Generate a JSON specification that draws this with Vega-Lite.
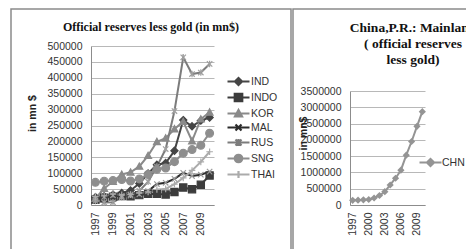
{
  "$schema": "https://vega.github.io/schema/vega-lite/v6.json",
  "padding": {"left": 10, "top": 8, "right": 0, "bottom": 0},
  "background": "white",
  "spacing": 0,
  "config": {
    "font": "Liberation Sans",
    "axis": {"labelFont": "Liberation Sans", "labelFontSize": 10.5, "labelColor": "#333333", "domainColor": "#8c8c8c", "domainWidth": 1, "ticks": false, "gridColor": "#b8b8b8", "gridWidth": 1},
    "legend": {"labelFont": "Liberation Sans", "labelFontSize": 10.5, "labelColor": "#333333", "padding": 0}
  },
  "resolve": {"scale": {"color": "independent", "x": "independent", "y": "independent"}, "legend": {"color": "independent"}},
  "datasets": {
    "asia": [
      {"year": 1997, "country": "IND", "value": 24688}, {"year": 1998, "country": "IND", "value": 27341}, {"year": 1999, "country": "IND", "value": 32667}, {"year": 2000, "country": "IND", "value": 37902}, {"year": 2001, "country": "IND", "value": 45870}, {"year": 2002, "country": "IND", "value": 67665}, {"year": 2003, "country": "IND", "value": 98938}, {"year": 2004, "country": "IND", "value": 126593}, {"year": 2005, "country": "IND", "value": 131924}, {"year": 2006, "country": "IND", "value": 170738}, {"year": 2007, "country": "IND", "value": 266988}, {"year": 2008, "country": "IND", "value": 247419}, {"year": 2009, "country": "IND", "value": 265182}, {"year": 2010, "country": "IND", "value": 275277},
      {"year": 1997, "country": "INDO", "value": 16587}, {"year": 1998, "country": "INDO", "value": 22713}, {"year": 1999, "country": "INDO", "value": 26445}, {"year": 2000, "country": "INDO", "value": 28502}, {"year": 2001, "country": "INDO", "value": 27246}, {"year": 2002, "country": "INDO", "value": 30971}, {"year": 2003, "country": "INDO", "value": 34962}, {"year": 2004, "country": "INDO", "value": 34952}, {"year": 2005, "country": "INDO", "value": 33140}, {"year": 2006, "country": "INDO", "value": 41103}, {"year": 2007, "country": "INDO", "value": 54976}, {"year": 2008, "country": "INDO", "value": 49597}, {"year": 2009, "country": "INDO", "value": 63563}, {"year": 2010, "country": "INDO", "value": 92908},
      {"year": 1997, "country": "KOR", "value": 20368}, {"year": 1998, "country": "KOR", "value": 51975}, {"year": 1999, "country": "KOR", "value": 73987}, {"year": 2000, "country": "KOR", "value": 96131}, {"year": 2001, "country": "KOR", "value": 102753}, {"year": 2002, "country": "KOR", "value": 121345}, {"year": 2003, "country": "KOR", "value": 155284}, {"year": 2004, "country": "KOR", "value": 198997}, {"year": 2005, "country": "KOR", "value": 210317}, {"year": 2006, "country": "KOR", "value": 238882}, {"year": 2007, "country": "KOR", "value": 262150}, {"year": 2008, "country": "KOR", "value": 201144}, {"year": 2009, "country": "KOR", "value": 269933}, {"year": 2010, "country": "KOR", "value": 291491},
      {"year": 1997, "country": "MAL", "value": 20788}, {"year": 1998, "country": "MAL", "value": 25559}, {"year": 1999, "country": "MAL", "value": 30588}, {"year": 2000, "country": "MAL", "value": 28330}, {"year": 2001, "country": "MAL", "value": 29522}, {"year": 2002, "country": "MAL", "value": 33361}, {"year": 2003, "country": "MAL", "value": 43822}, {"year": 2004, "country": "MAL", "value": 65881}, {"year": 2005, "country": "MAL", "value": 69858}, {"year": 2006, "country": "MAL", "value": 82132}, {"year": 2007, "country": "MAL", "value": 101019}, {"year": 2008, "country": "MAL", "value": 91149}, {"year": 2009, "country": "MAL", "value": 95432}, {"year": 2010, "country": "MAL", "value": 104884},
      {"year": 1997, "country": "RUS", "value": 12895}, {"year": 1998, "country": "RUS", "value": 7801}, {"year": 1999, "country": "RUS", "value": 8457}, {"year": 2000, "country": "RUS", "value": 24264}, {"year": 2001, "country": "RUS", "value": 32542}, {"year": 2002, "country": "RUS", "value": 44054}, {"year": 2003, "country": "RUS", "value": 73175}, {"year": 2004, "country": "RUS", "value": 120809}, {"year": 2005, "country": "RUS", "value": 175891}, {"year": 2006, "country": "RUS", "value": 295568}, {"year": 2007, "country": "RUS", "value": 464370}, {"year": 2008, "country": "RUS", "value": 411750}, {"year": 2009, "country": "RUS", "value": 416649}, {"year": 2010, "country": "RUS", "value": 443586},
      {"year": 1997, "country": "SNG", "value": 71289}, {"year": 1998, "country": "SNG", "value": 74928}, {"year": 1999, "country": "SNG", "value": 76843}, {"year": 2000, "country": "SNG", "value": 80132}, {"year": 2001, "country": "SNG", "value": 75375}, {"year": 2002, "country": "SNG", "value": 82021}, {"year": 2003, "country": "SNG", "value": 95746}, {"year": 2004, "country": "SNG", "value": 112232}, {"year": 2005, "country": "SNG", "value": 116172}, {"year": 2006, "country": "SNG", "value": 136260}, {"year": 2007, "country": "SNG", "value": 162957}, {"year": 2008, "country": "SNG", "value": 174193}, {"year": 2009, "country": "SNG", "value": 187809}, {"year": 2010, "country": "SNG", "value": 225754},
      {"year": 1997, "country": "THAI", "value": 26180}, {"year": 1998, "country": "THAI", "value": 28825}, {"year": 1999, "country": "THAI", "value": 34063}, {"year": 2000, "country": "THAI", "value": 32016}, {"year": 2001, "country": "THAI", "value": 32355}, {"year": 2002, "country": "THAI", "value": 38046}, {"year": 2003, "country": "THAI", "value": 41077}, {"year": 2004, "country": "THAI", "value": 48664}, {"year": 2005, "country": "THAI", "value": 50691}, {"year": 2006, "country": "THAI", "value": 65291}, {"year": 2007, "country": "THAI", "value": 85221}, {"year": 2008, "country": "THAI", "value": 108661}, {"year": 2009, "country": "THAI", "value": 135483}, {"year": 2010, "country": "THAI", "value": 167530}
    ],
    "chn": [
      {"year": 1997, "country": "CHN", "value": 142762}, {"year": 1998, "country": "CHN", "value": 149188}, {"year": 1999, "country": "CHN", "value": 157728}, {"year": 2000, "country": "CHN", "value": 168278}, {"year": 2001, "country": "CHN", "value": 215605}, {"year": 2002, "country": "CHN", "value": 291128}, {"year": 2003, "country": "CHN", "value": 408151}, {"year": 2004, "country": "CHN", "value": 614500}, {"year": 2005, "country": "CHN", "value": 821514}, {"year": 2006, "country": "CHN", "value": 1068490}, {"year": 2007, "country": "CHN", "value": 1530282}, {"year": 2008, "country": "CHN", "value": 1949260}, {"year": 2009, "country": "CHN", "value": 2416044}, {"year": 2010, "country": "CHN", "value": 2866079}
    ]
  },
  "hconcat": [
    {
      "width": 280,
      "height": 260,
      "view": {"stroke": "#8a8a8a", "strokeWidth": 1.5, "fill": "white"},
      "title": {"text": "Official reserves less gold (in mn$)", "font": "Liberation Serif", "fontSize": 12, "fontWeight": "bold", "color": "#111111", "anchor": "middle", "frame": "group", "offset": -34, "baseline": "alphabetic"},
      "data": {"name": "asia"},
      "encoding": {
        "x": {"field": "year", "type": "ordinal", "scale": {"type": "point", "range": [80, 203], "padding": 0.5},
              "axis": {"offset": -64, "labelAngle": 270, "labelPadding": 7, "title": null, "values": [1997, 1999, 2001, 2003, 2005, 2007, 2009], "grid": false}},
        "y": {"field": "value", "type": "quantitative", "scale": {"domain": [0, 500000], "range": [196, 37], "nice": false, "zero": true},
              "axis": {"offset": -80, "labelPadding": 9, "grid": true, "format": "d", "values": [0, 50000, 100000, 150000, 200000, 250000, 300000, 350000, 400000, 450000, 500000],
                       "title": "in mn $", "titleFont": "Liberation Sans", "titleFontSize": 10.5, "titleFontWeight": "bold", "titleColor": "#222222", "titleX": -59, "titleY": 104, "titleAngle": 270, "titleAlign": "center", "titleBaseline": "middle"}},
        "color": {"field": "country", "type": "nominal",
                  "scale": {"domain": ["IND", "INDO", "KOR", "MAL", "RUS", "SNG", "THAI"], "range": ["#454545", "#3c3c3c", "#8a8a8a", "#2c2c2c", "#7c7c7c", "#8e8e8e", "#ababab"]},
                  "legend": {"title": null, "orient": "none", "legendX": 221, "legendY": 66, "symbolSize": 100, "labelOffset": 6, "rowPadding": -1, "padding": 0,
                             "encode": {"symbols": {"update": {
                               "shape": {"signal": "['M-2.2,0H2.2M0,-0.7L0.7,0L0,0.7L-0.7,0Z','M-2.2,0H2.2M-0.75,-0.75H0.75V0.75H-0.75Z','M-2.2,0H2.2M0,-0.7L0.7,0.6H-0.7Z','M-2.2,0H2.2M-0.6,-0.6L0.6,0.6M-0.6,0.6L0.6,-0.6','M-2.2,0H2.2M-0.6,-0.6L0.6,0.6M-0.6,0.6L0.6,-0.6M0,-0.7V0.7','M-2.2,0H2.2M-0.75,0A0.75,0.75 0 1,0 0.75,0A0.75,0.75 0 1,0 -0.75,0Z','M-2.2,0H2.2M0,-0.7V0.7'][indexof(['IND','INDO','KOR','MAL','RUS','SNG','THAI'], datum.value)]"},
                               "fill": {"signal": "['#454545','#3c3c3c','#8a8a8a','#2c2c2c','#7c7c7c','#8e8e8e','#ababab'][indexof(['IND','INDO','KOR','MAL','RUS','SNG','THAI'], datum.value)]"},
                               "stroke": {"signal": "['#454545','#3c3c3c','#8a8a8a','#2c2c2c','#9a9a9a','#8e8e8e','#ababab'][indexof(['IND','INDO','KOR','MAL','RUS','SNG','THAI'], datum.value)]"},
                               "strokeWidth": {"value": 2.2},
                               "size": {"value": 100},
                               "opacity": {"value": 1}
                             }}}}}
      },
      "layer": [
        {"mark": {"type": "line", "strokeWidth": 2}},
        {"mark": {"type": "point", "filled": true, "size": 36, "opacity": 1, "strokeWidth": 1.2},
         "encoding": {
           "shape": {"field": "country", "type": "nominal", "legend": null,
                     "scale": {"domain": ["IND", "INDO", "KOR", "MAL", "RUS", "SNG", "THAI"],
                               "range": ["M0,-1.2L1.2,0L0,1.2L-1.2,0Z", "M-1.2,-1.2H1.2V1.2H-1.2Z", "M0,-1.15L1.15,0.95H-1.15Z", "M-0.9,-0.9L0.9,0.9M-0.9,0.9L0.9,-0.9", "M-0.9,-0.9L0.9,0.9M-0.9,0.9L0.9,-0.9M0,-1.1V1.1", "M-1.3,0A1.3,1.3 0 1,0 1.3,0A1.3,1.3 0 1,0 -1.3,0Z", "M-1.1,0H1.1M0,-1.1V1.1"]}},
           "stroke": {"field": "country", "type": "nominal", "legend": null,
                      "scale": {"domain": ["IND", "INDO", "KOR", "MAL", "RUS", "SNG", "THAI"], "range": ["#454545", "#3c3c3c", "#8a8a8a", "#9a9a9a", "#a0a0a0", "#8e8e8e", "#ababab"]}}
         }}
      ]
    },
    {
      "width": 240,
      "height": 260,
      "view": {"stroke": "#8a8a8a", "strokeWidth": 1.5, "fill": "white"},
      "title": {"text": ["China,P.R.: Mainland", "( official reserves", "less gold)"], "font": "Liberation Serif", "fontSize": 13.5, "lineHeight": 16.3, "fontWeight": "bold", "color": "#111111", "anchor": "middle", "frame": "group", "offset": -69, "baseline": "alphabetic"},
      "data": {"name": "chn"},
      "encoding": {
        "x": {"field": "year", "type": "ordinal", "scale": {"type": "point", "range": [57, 132], "padding": 0.5},
              "axis": {"offset": -64, "labelAngle": 270, "labelPadding": 7, "title": null, "values": [1997, 2000, 2003, 2006, 2009], "grid": false}},
        "y": {"field": "value", "type": "quantitative", "scale": {"domain": [0, 3500000], "range": [196, 82], "nice": false, "zero": true},
              "axis": {"offset": -57, "labelPadding": 9, "grid": true, "format": "d", "values": [0, 500000, 1000000, 1500000, 2000000, 2500000, 3000000, 3500000],
                       "title": "in mn$", "titleFont": "Liberation Sans", "titleFontSize": 10.5, "titleFontWeight": "bold", "titleColor": "#222222", "titleX": -47, "titleY": 124, "titleAngle": 270, "titleAlign": "center", "titleBaseline": "middle"}},
        "color": {"field": "country", "type": "nominal",
                  "scale": {"domain": ["CHN"], "range": ["#949494"]},
                  "legend": {"title": null, "orient": "none", "legendX": 131, "legendY": 147, "symbolSize": 100, "labelOffset": 5, "padding": 0,
                             "encode": {"symbols": {"update": {
                               "shape": {"value": "M-2.2,0H2.2M0,-0.7L0.7,0L0,0.7L-0.7,0Z"},
                               "fill": {"value": "#949494"},
                               "stroke": {"value": "#949494"},
                               "strokeWidth": {"value": 2.2},
                               "size": {"value": 100},
                               "opacity": {"value": 1}
                             }}}}}
      },
      "layer": [
        {"mark": {"type": "line", "strokeWidth": 2}},
        {"mark": {"type": "point", "filled": true, "size": 36, "opacity": 1, "shape": "M0,-1.2L1.2,0L0,1.2L-1.2,0Z"}}
      ]
    }
  ]
}
